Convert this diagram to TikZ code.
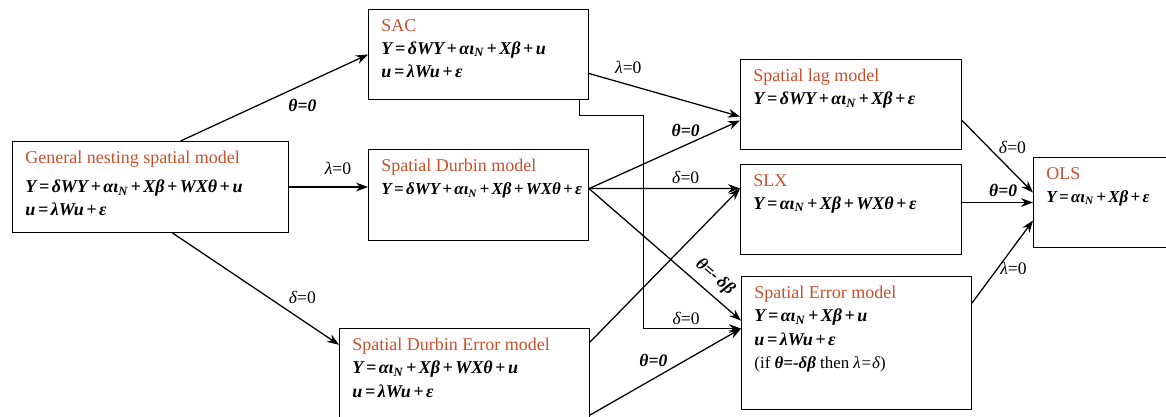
\documentclass[tikz,border=0pt]{standalone}
\usepackage{fontspec}
\setmainfont{Liberation Serif}
\usetikzlibrary{positioning,arrows.meta,calc}
\definecolor{titlered}{HTML}{C8502E}
\newcommand{\modeleq}[1]{{\bfseries\itshape\spaceskip=0.14em\relax #1}}
\newcommand{\modeltitle}[1]{\textcolor{titlered}{#1}}

\tikzset{
  model/.style={draw, line width=0.7pt, inner sep=0pt, anchor=north west},
  modeltext/.style={anchor=north west, align=left, inner sep=0pt, xshift=0.33cm, yshift=-0.25cm,
    font=\fontsize{12.8pt}{16.5pt}\selectfont},
  restrict/.style={-{Stealth[length=0.3cm, width=0.22cm]}, line width=0.9pt},
  cond/.style={font=\fontsize{12.5pt}{14pt}\selectfont, inner sep=1pt},
}

\begin{document}
\begin{tikzpicture}[x=0.025cm, y=-0.025cm]
\useasboundingbox (0,0) rectangle (1166,416);

% Model boxes
\node[model, minimum width=6.9cm, minimum height=2.275cm] (gn) at (12,141) {};
\node[model, minimum width=5.5cm, minimum height=2.25cm] (sac) at (368,9) {};
\node[model, minimum width=5.5cm, minimum height=2.275cm] (sdm) at (368,149) {};
\node[model, minimum width=6.25cm, minimum height=2.25cm] (sdem) at (339,328) {};
\node[model, minimum width=5.525cm, minimum height=2.25cm] (sl) at (740,59) {};
\node[model, minimum width=5.525cm, minimum height=2.25cm] (slx) at (740,164) {};
\node[model, minimum width=5.75cm, minimum height=3.325cm] (se) at (741,276) {};
\node[model, minimum width=3.5cm, minimum height=2.25cm] (ols) at (1033,157) {};

% Box contents
\node[modeltext] (gn-txt) at (gn.north west) {\modeltitle{General nesting spatial model}\\[4pt]
  \modeleq{Y = δWY + αι\textsubscript{N} + Xβ + WXθ + u}\\
  \modeleq{u = λWu + ε}};
\node[modeltext] (sac-txt) at (sac.north west) {\modeltitle{SAC}\\
  \modeleq{Y = δWY + αι\textsubscript{N} + Xβ + u}\\
  \modeleq{u = λWu + ε}};
\node[modeltext] (sdm-txt) at (sdm.north west) {\modeltitle{Spatial Durbin model}\\
  {\fontsize{12pt}{15pt}\selectfont\modeleq{Y = δWY + αι\textsubscript{N} + Xβ + WXθ + ε}}};
\node[modeltext] (sdem-txt) at (sdem.north west) {\modeltitle{Spatial Durbin Error model}\\
  \modeleq{Y = αι\textsubscript{N} + Xβ + WXθ + u}\\
  \modeleq{u = λWu + ε}};
\node[modeltext] (sl-txt) at (sl.north west) {\modeltitle{Spatial lag model}\\
  \modeleq{Y = δWY + αι\textsubscript{N} + Xβ + ε}};
\node[modeltext] (slx-txt) at (slx.north west) {\modeltitle{SLX}\\
  \modeleq{Y = αι\textsubscript{N} + Xβ + WXθ + ε}};
\node[modeltext] (se-txt) at (se.north west) {\modeltitle{Spatial Error model}\\
  \modeleq{Y = αι\textsubscript{N} + Xβ + u}\\
  \modeleq{u = λWu + ε}\\
  {\fontsize{12pt}{14pt}\selectfont (if \modeleq{θ=-δβ} then \textit{λ=δ})}};
\node[modeltext] (ols-txt) at (ols.north west) {\modeltitle{OLS}\\
  {\fontsize{12pt}{14pt}\selectfont\modeleq{Y = αι\textsubscript{N} + Xβ + ε}}};

% Outgoing points
\coordinate (sdm-out) at ([yshift=0.16cm]sdm.east);
\coordinate (sac-bend) at (643,115);

% Restrictions from the general model
\draw[restrict] ([xshift=0.75cm]gn.north) -- (sac.west)
  node[cond, pos=0.65, yshift=-0.51cm] (c1) {\modeleq{θ=0}};
\draw[restrict] (gn.east) -- (gn.east -| sdm.west)
  node[cond, pos=0.62, yshift=0.46cm] (c2) {\textit{λ}=0};
\draw[restrict] ([xshift=0.55cm]gn.south) -- ([yshift=-0.42cm]sdem.north west)
  node[cond, pos=0.78, yshift=0.575cm] (c3) {\textit{δ}=0};

% Restrictions from SAC
\draw[restrict] ([yshift=-0.475cm]sac.east) -- ([yshift=-0.3cm]sl.west)
  node[cond, pos=0.26, yshift=0.425cm] (c4) {\textit{λ}=0};
\draw[restrict, line width=0.7pt] ([xshift=-0.25cm]sac.south east) |- (sac-bend) |- ([yshift=0.36cm]se.west)
  node[cond, pos=0.72, yshift=0.25cm] (c5) {\textit{δ}=0};

% Restrictions from the Spatial Durbin model
\draw[restrict] (sdm-out) -- ([yshift=-0.4cm]sl.west)
  node[cond, pos=0.64, yshift=0.365cm] (c6) {\modeleq{θ=0}};
\draw[restrict] (sdm-out) -- ([yshift=0.525cm]slx.west)
  node[cond, pos=0.64, yshift=0.275cm] (c7) {\textit{δ}=0};
\draw[restrict] (sdm-out) -- ([yshift=0.56cm]se.west)
  node[cond, pos=0.76, sloped, above=4pt] (c8) {\modeleq{θ=- δβ}};

% Restrictions from the Spatial Durbin Error model
\draw[restrict] ([yshift=-0.35cm]sdem.north east) -- ([yshift=0.525cm]slx.west);
\draw[restrict] ([yshift=-2.175cm]sdem.north east) -- ([yshift=0.36cm]se.west)
  node[cond, pos=0.42, yshift=0.45cm] (c9) {\modeleq{θ=0}};

% Into OLS
\draw[restrict] ([yshift=-0.4cm]sl.east) -- ([yshift=0.25cm]ols.west)
  node[cond, pos=0.71, yshift=0.6cm] (c10) {\textit{δ}=0};
\draw[restrict] (ols.west -| slx.east) -- (ols.west)
  node[cond, pos=0.58, yshift=0.3cm] (c11) {\modeleq{θ=0}};
\draw[restrict] ([yshift=1.0cm]se.east) -- ([yshift=-0.45cm]ols.west)
  node[cond, pos=0.68, yshift=-0.54cm] (c12) {\textit{λ}=0};

\end{tikzpicture}
\end{document}
